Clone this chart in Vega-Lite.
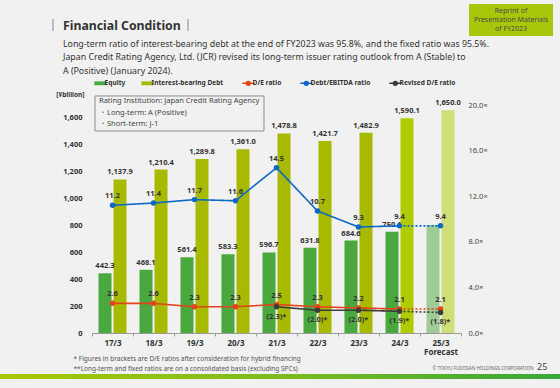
{
  "$schema": "https://vega.github.io/schema/vega-lite/v6.json",
  "width": 369,
  "height": 228,
  "autosize": {"type": "none"},
  "padding": {"left": 92, "top": 105, "right": 99, "bottom": 55},
  "background": "#f1f1f1",
  "config": {"view": {"stroke": null}, "font": "Noto Sans"},
  "title": {
    "text": "Financial Condition",
    "subtitle": [
      "Long-term ratio of interest-bearing debt at the end of FY2023 was 95.8%, and the fixed ratio was 95.5%.",
      "Japan Credit Rating Agency, Ltd. (JCR) revised its long-term issuer rating outlook from A (Stable) to",
      "A (Positive) (January 2024)."
    ],
    "anchor": "start",
    "frame": "group",
    "offset": 0,
    "dx": -29,
    "dy": 72,
    "font": "Noto Sans",
    "fontSize": 12.3,
    "fontWeight": "bold",
    "color": "#333333",
    "subtitleFont": "Noto Sans",
    "subtitleFontSize": 8.8,
    "subtitleColor": "#333333",
    "subtitleLineHeight": 13.7,
    "subtitlePadding": 7
  },
  "datasets": {
    "bars": [
      {"year": "17/3", "series": "Equity", "value": 442.3, "forecast": false},
      {"year": "17/3", "series": "Interest-bearing Debt", "value": 1137.9, "forecast": false},
      {"year": "18/3", "series": "Equity", "value": 468.1, "forecast": false},
      {"year": "18/3", "series": "Interest-bearing Debt", "value": 1210.4, "forecast": false},
      {"year": "19/3", "series": "Equity", "value": 561.4, "forecast": false},
      {"year": "19/3", "series": "Interest-bearing Debt", "value": 1289.8, "forecast": false},
      {"year": "20/3", "series": "Equity", "value": 583.3, "forecast": false},
      {"year": "20/3", "series": "Interest-bearing Debt", "value": 1361.0, "forecast": false},
      {"year": "21/3", "series": "Equity", "value": 596.7, "forecast": false},
      {"year": "21/3", "series": "Interest-bearing Debt", "value": 1478.8, "forecast": false},
      {"year": "22/3", "series": "Equity", "value": 631.8, "forecast": false},
      {"year": "22/3", "series": "Interest-bearing Debt", "value": 1421.7, "forecast": false},
      {"year": "23/3", "series": "Equity", "value": 684.6, "forecast": false},
      {"year": "23/3", "series": "Interest-bearing Debt", "value": 1482.9, "forecast": false},
      {"year": "24/3", "series": "Equity", "value": 750.1, "forecast": false},
      {"year": "24/3", "series": "Interest-bearing Debt", "value": 1590.1, "forecast": false},
      {"year": "25/3", "series": "Equity", "value": 800, "forecast": true},
      {"year": "25/3", "series": "Interest-bearing Debt", "value": 1650.0, "forecast": true}
    ],
    "ratios": [
      {"year": "17/3", "metric": "D/E ratio", "value": 2.6, "seg": "actual"},
      {"year": "18/3", "metric": "D/E ratio", "value": 2.6, "seg": "actual"},
      {"year": "19/3", "metric": "D/E ratio", "value": 2.3, "seg": "actual"},
      {"year": "20/3", "metric": "D/E ratio", "value": 2.3, "seg": "actual"},
      {"year": "21/3", "metric": "D/E ratio", "value": 2.5, "seg": "actual"},
      {"year": "22/3", "metric": "D/E ratio", "value": 2.3, "seg": "actual"},
      {"year": "23/3", "metric": "D/E ratio", "value": 2.2, "seg": "actual"},
      {"year": "24/3", "metric": "D/E ratio", "value": 2.1, "seg": "actual"},
      {"year": "24/3", "metric": "D/E ratio", "value": 2.1, "seg": "forecast"},
      {"year": "25/3", "metric": "D/E ratio", "value": 2.1, "seg": "forecast"},
      {"year": "17/3", "metric": "Debt/EBITDA ratio", "value": 11.2, "seg": "actual"},
      {"year": "18/3", "metric": "Debt/EBITDA ratio", "value": 11.4, "seg": "actual"},
      {"year": "19/3", "metric": "Debt/EBITDA ratio", "value": 11.7, "seg": "actual"},
      {"year": "20/3", "metric": "Debt/EBITDA ratio", "value": 11.6, "seg": "actual"},
      {"year": "21/3", "metric": "Debt/EBITDA ratio", "value": 14.5, "seg": "actual"},
      {"year": "22/3", "metric": "Debt/EBITDA ratio", "value": 10.7, "seg": "actual"},
      {"year": "23/3", "metric": "Debt/EBITDA ratio", "value": 9.3, "seg": "actual"},
      {"year": "24/3", "metric": "Debt/EBITDA ratio", "value": 9.4, "seg": "actual"},
      {"year": "24/3", "metric": "Debt/EBITDA ratio", "value": 9.4, "seg": "forecast"},
      {"year": "25/3", "metric": "Debt/EBITDA ratio", "value": 9.4, "seg": "forecast"},
      {"year": "21/3", "metric": "Revised D/E ratio", "value": 2.3, "seg": "actual"},
      {"year": "22/3", "metric": "Revised D/E ratio", "value": 2.0, "seg": "actual"},
      {"year": "23/3", "metric": "Revised D/E ratio", "value": 2.0, "seg": "actual"},
      {"year": "24/3", "metric": "Revised D/E ratio", "value": 1.9, "seg": "actual"},
      {"year": "24/3", "metric": "Revised D/E ratio", "value": 1.9, "seg": "forecast"},
      {"year": "25/3", "metric": "Revised D/E ratio", "value": 1.8, "seg": "forecast"}
    ],
    "one": [{"k": 1}]
  },
  "layer": [
    {
      "layer": [
        {
          "data": {"name": "bars"},
          "mark": {"type": "bar"},
          "encoding": {
            "x": {
              "field": "year", "type": "ordinal",
              "scale": {"domain": ["17/3","18/3","19/3","20/3","21/3","22/3","23/3","24/3","25/3"], "paddingInner": 0, "paddingOuter": 0},
              "axis": {
                "title": ["* Figures  in brackets are D/E ratios after consideration for hybrid financing", "**Long-term and fixed ratios are on a consolidated basis  (excluding SPCs)"],
                "titleFont": "Noto Sans", "titleFontSize": 6.5, "titleFontWeight": "normal", "titleColor": "#555555",
                "titleAnchor": "start", "titleAlign": "left", "titleBaseline": "middle",
                "titleX": -19, "titleY": 25, "titleLineHeight": 10,
                "labelExpr": "datum.value == '25/3' ? ['25/3', 'Forecast'] : datum.value",
                "labelAngle": 0, "labelFont": "Noto Sans", "labelFontSize": 8, "labelFontWeight": "bold", "labelColor": "#333333",
                "labelPadding": 3, "labelLineHeight": 9.5,
                "domainColor": "#9a9a9a", "tickColor": "#9a9a9a", "tickSize": 3, "tickBand": "extent", "grid": false
              }
            },
            "xOffset": {"field": "series", "type": "nominal", "scale": {"domain": ["Equity", "Interest-bearing Debt"], "paddingInner": 0.133, "paddingOuter": 0.433}},
            "y": {
              "field": "value", "type": "quantitative",
              "scale": {"domain": [0, 1689], "nice": false, "zero": true},
              "axis": {
                "title": "[¥billion]", "titleAngle": 0, "titleAlign": "right", "titleBaseline": "middle",
                "titleX": -8, "titleY": -11, "titleFont": "Noto Sans", "titleFontSize": 6.5, "titleFontWeight": "bold", "titleColor": "#333333",
                "values": [0, 200, 400, 600, 800, 1000, 1200, 1400, 1600], "tickCount": 12, "format": ",d",
                "labelFont": "Noto Sans", "labelFontSize": 7.5, "labelFontWeight": "bold", "labelColor": "#333333",
                "labelOverlap": false,
                "labelPadding": 10, "ticks": false, "domain": false, "grid": false
              }
            },
            "color": {
              "condition": {"test": "(datum.year == '24/3' || datum.year == '25/3') && datum.series == 'Interest-bearing Debt'", "value": "#b0cc00"},
              "field": "series", "type": "nominal",
              "scale": {
                "domain": ["Equity", "Interest-bearing Debt", "D/E ratio", "Debt/EBITDA ratio", "Revised D/E ratio"],
                "range": ["#4aa83e", "#a7ba00", "#e5431c", "#0c68c6", "#3b3b3b"]
              },
              "legend": {
                "orient": "none", "legendX": 5, "legendY": -25, "direction": "horizontal", "columns": 5,
                "title": null, "labelFont": "Noto Sans", "labelFontSize": 6.6, "labelFontWeight": "bold", "labelColor": "#333333",
                "labelExpr": "datum.label == 'Equity' ? 'Equity      ' : datum.label",
                "symbolSize": 144, "columnPadding": 15, "labelOffset": 1, "gridAlign": "none",
                "encode": {
                  "symbols": {
                    "update": {
                      "shape": {"signal": "indexof(['Equity','Interest-bearing Debt'], datum.value) >= 0 ? 'M-1,-0.32H1V0.32H-1Z' : 'M-1,0H1M0.32,0A0.32,0.32,0,1,1,-0.32,0A0.32,0.32,0,1,1,0.32,0'"},
                      "fill": {"signal": "scale('color', datum.value)"},
                      "stroke": {"signal": "scale('color', datum.value)"},
                      "strokeWidth": {"signal": "indexof(['Equity','Interest-bearing Debt'], datum.value) >= 0 ? 0 : 1.5"},
                      "opacity": {"value": 1}
                    }
                  }
                }
              }
            },
            "fillOpacity": {"condition": {"test": "datum.forecast", "value": 0.5}, "value": 1}
          }
        },
        {
          "data": {"name": "bars"},
          "transform": [{"filter": "!(datum.forecast && datum.series == 'Equity')"}],
          "mark": {"type": "text", "baseline": "bottom", "dy": -3, "font": "Noto Sans", "fontSize": 7.5, "fontWeight": "bold", "color": "#333333"},
          "encoding": {
            "x": {"field": "year", "type": "ordinal"},
            "xOffset": {"field": "series", "type": "nominal"},
            "y": {"field": "value", "type": "quantitative"},
            "text": {"field": "value", "type": "quantitative", "format": ",.1f"}
          }
        }
      ]
    },
    {
      "layer": [
        {
          "data": {"name": "ratios"},
          "mark": {"type": "line", "strokeWidth": 1.6},
          "encoding": {
            "x": {"field": "year", "type": "ordinal"},
            "y": {
              "field": "value", "type": "quantitative",
              "scale": {"domain": [0, 20], "nice": false},
              "axis": {
                "orient": "right",
                "title": "© TOKYU FUDOSAN HOLDINGS CORPORATION", "titleAngle": 0, "titleAlign": "left", "titleBaseline": "middle",
                "titleX": -29, "titleY": 263, "titleFont": "Noto Sans", "titleFontSize": 4.6, "titleFontWeight": "normal", "titleColor": "#666666",
                "values": [0, 4, 8, 12, 16, 20], "tickCount": 8,
                "labelExpr": "format(datum.value, '.1f') + '×'",
                "labelFont": "Noto Sans", "labelFontSize": 7.5, "labelColor": "#444444",
                "labelPadding": 7, "ticks": false, "domain": false, "grid": false
              }
            },
            "color": {"field": "metric", "type": "nominal"},
            "detail": {"field": "seg"},
            "strokeDash": {"field": "seg", "type": "nominal", "scale": {"domain": ["actual", "forecast"], "range": [[1, 0], [2, 2]]}, "legend": null}
          }
        },
        {
          "data": {"name": "ratios"},
          "transform": [{"filter": "datum.seg == 'actual' || datum.year == '25/3'"}],
          "mark": {"type": "point", "filled": true, "size": 30, "opacity": 1},
          "encoding": {
            "x": {"field": "year", "type": "ordinal"},
            "y": {"field": "value", "type": "quantitative"},
            "color": {"field": "metric", "type": "nominal"}
          }
        },
        {
          "data": {"name": "ratios"},
          "transform": [{"filter": "datum.metric != 'Revised D/E ratio' && (datum.seg == 'actual' || datum.year == '25/3')"}],
          "mark": {"type": "text", "baseline": "middle", "dy": -9, "font": "Noto Sans", "fontSize": 7.5, "fontWeight": "bold", "color": "#333333"},
          "encoding": {
            "x": {"field": "year", "type": "ordinal"},
            "y": {"field": "value", "type": "quantitative"},
            "text": {"field": "value", "type": "quantitative", "format": ".1f"}
          }
        },
        {
          "data": {"name": "ratios"},
          "transform": [
            {"filter": "datum.metric == 'Revised D/E ratio' && (datum.seg == 'actual' || datum.year == '25/3')"},
            {"calculate": "'(' + format(datum.value, '.1f') + ')*'", "as": "lab"}
          ],
          "mark": {"type": "text", "baseline": "middle", "dy": 10, "font": "Noto Sans", "fontSize": 7.5, "fontWeight": "bold", "color": "#333333"},
          "encoding": {
            "x": {"field": "year", "type": "ordinal"},
            "y": {"field": "value", "type": "quantitative"},
            "text": {"field": "lab", "type": "nominal"}
          }
        },
        {
          "data": {"name": "one"},
          "mark": {"type": "rect", "clip": false, "color": {"gradient": "linear", "x1": 0, "x2": 1, "y1": 0, "y2": 0, "stops": [{"offset": 0, "color": "#a9c806"}, {"offset": 0.5, "color": "#7dbb1e"}, {"offset": 1, "color": "#38a63a"}]}},
          "encoding": {
            "x": {"datum": "17/3", "type": "ordinal", "bandPosition": -2.244},
            "x2": {"datum": "17/3", "bandPosition": 11.415},
            "y": {"datum": -3.596, "type": "quantitative"},
            "y2": {"datum": -4.035}
          }
        },
        {
          "data": {"name": "one"},
          "mark": {"type": "rect", "clip": false, "fill": "#a0a0a0"},
          "encoding": {
            "x": {"datum": "17/3", "type": "ordinal", "bandPosition": -0.968},
            "x2": {"datum": "17/3", "bandPosition": -0.937},
            "y": {"datum": 27.54, "type": "quantitative"},
            "y2": {"datum": 26.49}
          }
        },
        {
          "data": {"name": "one"},
          "mark": {"type": "rect", "clip": false, "fill": "#a0a0a0"},
          "encoding": {
            "x": {"datum": "19/3", "type": "ordinal", "bandPosition": 0.325},
            "x2": {"datum": "19/3", "bandPosition": 0.356},
            "y": {"datum": 27.54, "type": "quantitative"},
            "y2": {"datum": 26.49}
          }
        },
        {
          "data": {"name": "one"},
          "mark": {"type": "rect", "clip": false, "fill": "#f1f1f1", "stroke": "#8c8c8c", "strokeWidth": 1},
          "encoding": {
            "x": {"datum": "17/3", "type": "ordinal", "bandPosition": 0.073},
            "x2": {"datum": "21/3", "bandPosition": 0.195},
            "y": {"datum": 20.79, "type": "quantitative"},
            "y2": {"datum": 17.72}
          }
        },
        {
          "data": {"name": "one"},
          "mark": {"type": "text", "clip": false, "align": "left", "baseline": "middle", "font": "Noto Sans", "fontSize": 7.5, "color": "#444444", "lineHeight": 11.5},
          "encoding": {
            "x": {"datum": "17/3", "type": "ordinal", "bandPosition": 0.17},
            "y": {"datum": 20.31, "type": "quantitative"},
            "text": {"value": ["Rating Institution: Japan Credit Rating Agency", " ・Long-term: A  (Positive)", " ・Short-term: J-1"]}
          }
        },
        {
          "data": {"name": "one"},
          "mark": {"type": "rect", "clip": false, "fill": "#a9c70a"},
          "encoding": {
            "x": {"datum": "25/3", "type": "ordinal", "bandPosition": 1.195},
            "x2": {"datum": "25/3", "bandPosition": 3.244},
            "y": {"datum": 28.86, "type": "quantitative"},
            "y2": {"datum": 26.05}
          }
        },
        {
          "data": {"name": "one"},
          "mark": {"type": "text", "clip": false, "align": "center", "baseline": "middle", "font": "Noto Sans", "fontSize": 7, "color": "#4a4a4a", "lineHeight": 9},
          "encoding": {
            "x": {"datum": "25/3", "type": "ordinal", "bandPosition": 2.22},
            "y": {"datum": 28.25, "type": "quantitative"},
            "text": {"value": ["Reprint of", "Presentation Materials", "of FY2023"]}
          }
        },
        {
          "data": {"name": "one"},
          "mark": {"type": "text", "clip": false, "align": "center", "baseline": "middle", "font": "Noto Sans", "fontSize": 9, "color": "#444444"},
          "encoding": {
            "x": {"datum": "25/3", "type": "ordinal", "bandPosition": 2.98},
            "y": {"datum": -3.026, "type": "quantitative"},
            "text": {"value": "25"}
          }
        }
      ]
    }
  ],
  "resolve": {"scale": {"y": "independent"}}
}
